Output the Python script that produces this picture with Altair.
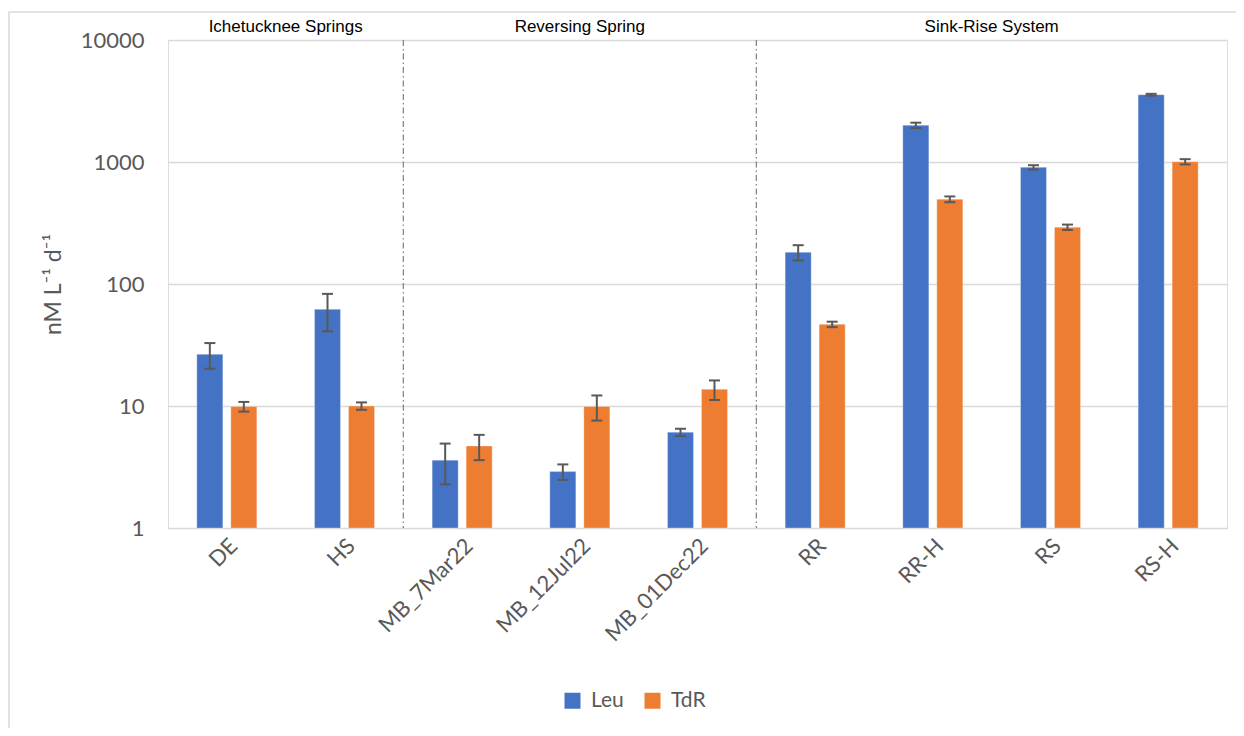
import altair as alt
import pandas as pd

sites = ["DE", "HS", "MB_7Mar22", "MB_12Jul22", "MB_01Dec22", "RR", "RR-H", "RS", "RS-H"]
leu = [26.5, 62, 3.6, 2.9, 6.1, 182, 2000, 904, 3560]
leu_err = [6.3, 21, 1.32, 0.42, 0.42, 26, 100, 37, 60]
tdr = [9.9, 10.0, 4.7, 9.9, 13.7, 46.7, 495, 292, 1005]
tdr_err = [0.9, 0.7, 1.1, 2.3, 2.5, 2.4, 27, 15, 50]
series = ["Leu", "TdR"]
colors = ["#4472C4", "#ED7D31"]

group_names = ["Ichetucknee Springs", "Reversing Spring", "Sink-Rise System"]
group_anchor = ["DE", "MB_12Jul22", "RR-H"]
group_band = [1.0, 0.5, 1.0]
divider_after = ["HS", "MB_01Dec22"]
y_ticks = [1, 10, 100, 1000, 10000]

rows = []
for s, v1, e1, v2, e2 in zip(sites, leu, leu_err, tdr, tdr_err):
    rows.append({"site": s, "series": "Leu", "value": v1, "err": e1})
    rows.append({"site": s, "series": "TdR", "value": v2, "err": e2})
df = pd.DataFrame(rows)

GRAY = "#595959"
xscale = alt.Scale(domain=sites, paddingInner=0, paddingOuter=0)
x_axis = alt.Axis(title=None, labelAngle=-45, labelFontSize=22, labelColor=GRAY,
                  labelFont="Lato", ticks=False, domain=False, labelPadding=7, grid=False)
x_enc = alt.X("site:N", scale=xscale, sort=sites, axis=x_axis)
xoff = alt.XOffset("series:N", scale=alt.Scale(domain=series, paddingInner=0.235, paddingOuter=0.848))
yscale = alt.Scale(type="log", domain=[1, 10000], nice=False)
y_axis = alt.Axis(values=y_ticks, format="d", title="nM L⁻¹ d⁻¹", labelFontSize=22,
                  labelFont="Lato", labelColor=GRAY, ticks=False, domain=False,
                  labelPadding=24, gridColor="#d9d9d9", gridWidth=1.3,
                  titleFontSize=23, titleFont="Lato", titleColor=GRAY,
                  titleFontWeight="normal", titlePadding=15)

base = alt.Chart(df)

bars = base.mark_bar(stroke="white", strokeWidth=0.6, strokeOpacity=0.5).encode(
    x=x_enc,
    xOffset=xoff,
    y=alt.Y("value:Q", scale=yscale, stack=None, axis=y_axis),
    y2=alt.datum(1),
    color=alt.Color("series:N", scale=alt.Scale(domain=series, range=colors),
                    legend=alt.Legend(title=None, orient="none", legendX=394, legendY=650,
                                      direction="horizontal", symbolType="square",
                                      symbolSize=256, labelFontSize=21, labelFont="Lato",
                                      labelColor=GRAY, symbolStrokeWidth=0,
                                      columnPadding=18, labelOffset=8, padding=0)),
)

err_base = base.transform_calculate(lo="datum.value - datum.err", hi="datum.value + datum.err")

rules = err_base.mark_rule(color=GRAY, strokeWidth=2).encode(
    x=alt.X("site:N", scale=xscale, sort=sites),
    xOffset=xoff,
    y=alt.Y("lo:Q", scale=yscale),
    y2="hi:Q",
)
cap_lo = err_base.mark_tick(color=GRAY, size=11, thickness=2, opacity=1).encode(
    x=alt.X("site:N", scale=xscale, sort=sites),
    xOffset=xoff,
    y=alt.Y("lo:Q", scale=yscale),
)
cap_hi = err_base.mark_tick(color=GRAY, size=11, thickness=2, opacity=1).encode(
    x=alt.X("site:N", scale=xscale, sort=sites),
    xOffset=xoff,
    y=alt.Y("hi:Q", scale=yscale),
)

dividers = alt.Chart(pd.DataFrame({"site": divider_after})).mark_rule(
    color="#7f7f7f", strokeWidth=1.2, strokeDash=[6, 3, 1.5, 3]
).encode(x=alt.X("site:N", scale=xscale, sort=sites, bandPosition=1))

texts = []
for name, anchor, bp in zip(group_names, group_anchor, group_band):
    texts.append(
        alt.Chart(pd.DataFrame({"site": [anchor], "name": [name]})).mark_text(
            font="Liberation Sans", fontSize=17, color="black", baseline="alphabetic", align="center"
        ).encode(
            x=alt.X("site:N", scale=xscale, sort=sites, bandPosition=bp),
            y=alt.value(-8),
            text="name:N",
        )
    )

border = alt.Chart(pd.DataFrame({"a": [0]})).mark_rect(
    fill="transparent", stroke="#d9d9d9", strokeWidth=1.5
).encode(x=alt.value(-159), x2=alt.value(1100), y=alt.value(-28), y2=alt.value(720))

chart = alt.layer(border, bars, rules, cap_lo, cap_hi, dividers, *texts).properties(
    width=1059, height=488,
    padding={"left": 160, "top": 32, "right": 9, "bottom": 200},
    autosize=alt.AutoSizeParams(type="none"),
).configure_view(stroke=None).configure(background="white")

chart.save("out.html", embed_options={"renderer": "svg", "actions": False})
